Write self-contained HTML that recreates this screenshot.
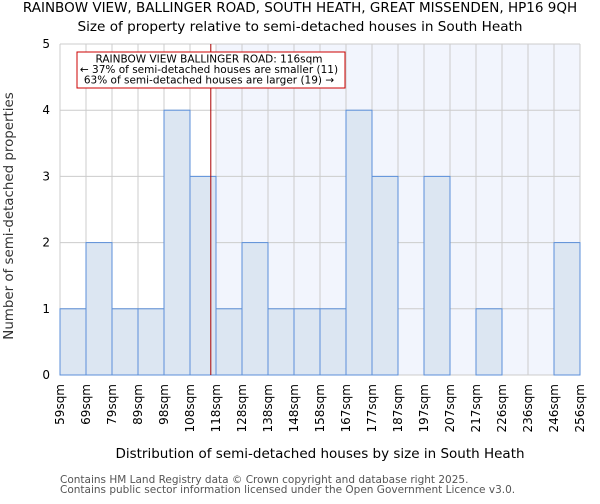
<!DOCTYPE html>
<html><head><meta charset="utf-8"><style>
body{margin:0;background:#fff;font-family:"DejaVu Sans","Liberation Sans",sans-serif;}
</style></head><body>
<svg id="chart" width="600" height="500" xmlns="http://www.w3.org/2000/svg" font-family="DejaVu Sans, Liberation Sans, sans-serif">
<text x="300" y="12" text-anchor="middle" font-size="13.5">RAINBOW VIEW, BALLINGER ROAD, SOUTH HEATH, GREAT MISSENDEN, HP16 9QH</text>
<text x="300" y="31" text-anchor="middle" font-size="13.6">Size of property relative to semi-detached houses in South Heath</text>
<g id="plot"></g>
<text x="320" y="458" text-anchor="middle" font-size="13.5">Distribution of semi-detached houses by size in South Heath</text>
<text transform="translate(13,216) rotate(-90)" text-anchor="middle" font-size="13.4" fill="#333">Number of semi-detached properties</text>
<text x="60" y="483" font-size="10.5" fill="#555">Contains HM Land Registry data © Crown copyright and database right 2025.</text>
<text x="60" y="493" font-size="10.5" fill="#555">Contains public sector information licensed under the Open Government Licence v3.0.</text>
</svg>
<script>
const edgeLabels=["59sqm","69sqm","79sqm","89sqm","98sqm","108sqm","118sqm","128sqm","138sqm","148sqm","158sqm","167sqm","177sqm","187sqm","197sqm","207sqm","217sqm","226sqm","236sqm","246sqm","256sqm"];
const counts=[1,2,1,1,4,3,1,2,1,1,1,4,3,0,3,0,1,0,0,2];
const yTicks=[0,1,2,3,4,5];
const propertyBinPos=5.8;
const highlightStart=6;
const NS="http://www.w3.org/2000/svg";
const g=document.getElementById('plot');
const L=60,R=580,T=44,B=375,yMax=5;
const bw=(R-L)/counts.length;
const xs=i=>L+i*bw;
const ys=v=>B-(B-T)*v/yMax;
function mk(t,a){const e=document.createElementNS(NS,t);for(const k in a)e.setAttribute(k,a[k]);g.appendChild(e);return e;}
let e=mk('rect',{x:xs(highlightStart),y:T,width:R-xs(highlightStart),height:B-T,fill:'#f2f5fd'});


for(let i=0;i<=counts.length;i++){e=mk('line',{x1:xs(i),x2:xs(i),y1:T,y2:B,stroke:'#ccc','stroke-width':1});

}
yTicks.forEach(v=>{e=mk('line',{x1:L,x2:R,y1:ys(v),y2:ys(v),stroke:'#ccc','stroke-width':1});


e=mk('text',{x:L-10,y:ys(v)+4,'text-anchor':'end','font-size':12});e.textContent=v;

});
counts.forEach((c,i)=>{if(c<=0)return;e=mk('rect',{x:xs(i),y:ys(c),width:bw,height:B-ys(c),fill:'#dce6f2',stroke:'#5b8fd9','stroke-width':1});

});
edgeLabels.forEach((l,i)=>{e=mk('text',{transform:`translate(${xs(i)+4},384) rotate(-90)`,'text-anchor':'end','font-size':12});e.textContent=l;

});
e=mk('line',{x1:xs(propertyBinPos),x2:xs(propertyBinPos),y1:T,y2:B,stroke:'#a00','stroke-width':1});


e=mk('rect',{x:77,y:52,width:268,height:36,fill:'#fff',stroke:'#c00','stroke-width':1});


["RAINBOW VIEW BALLINGER ROAD: 116sqm","← 37% of semi-detached houses are smaller (11)","63% of semi-detached houses are larger (19) →"].forEach((t,k)=>{e=mk('text',{x:209,y:62.5+k*10.5,'text-anchor':'middle','font-size':10.5});e.textContent=t;

});
</script>
</body></html>
